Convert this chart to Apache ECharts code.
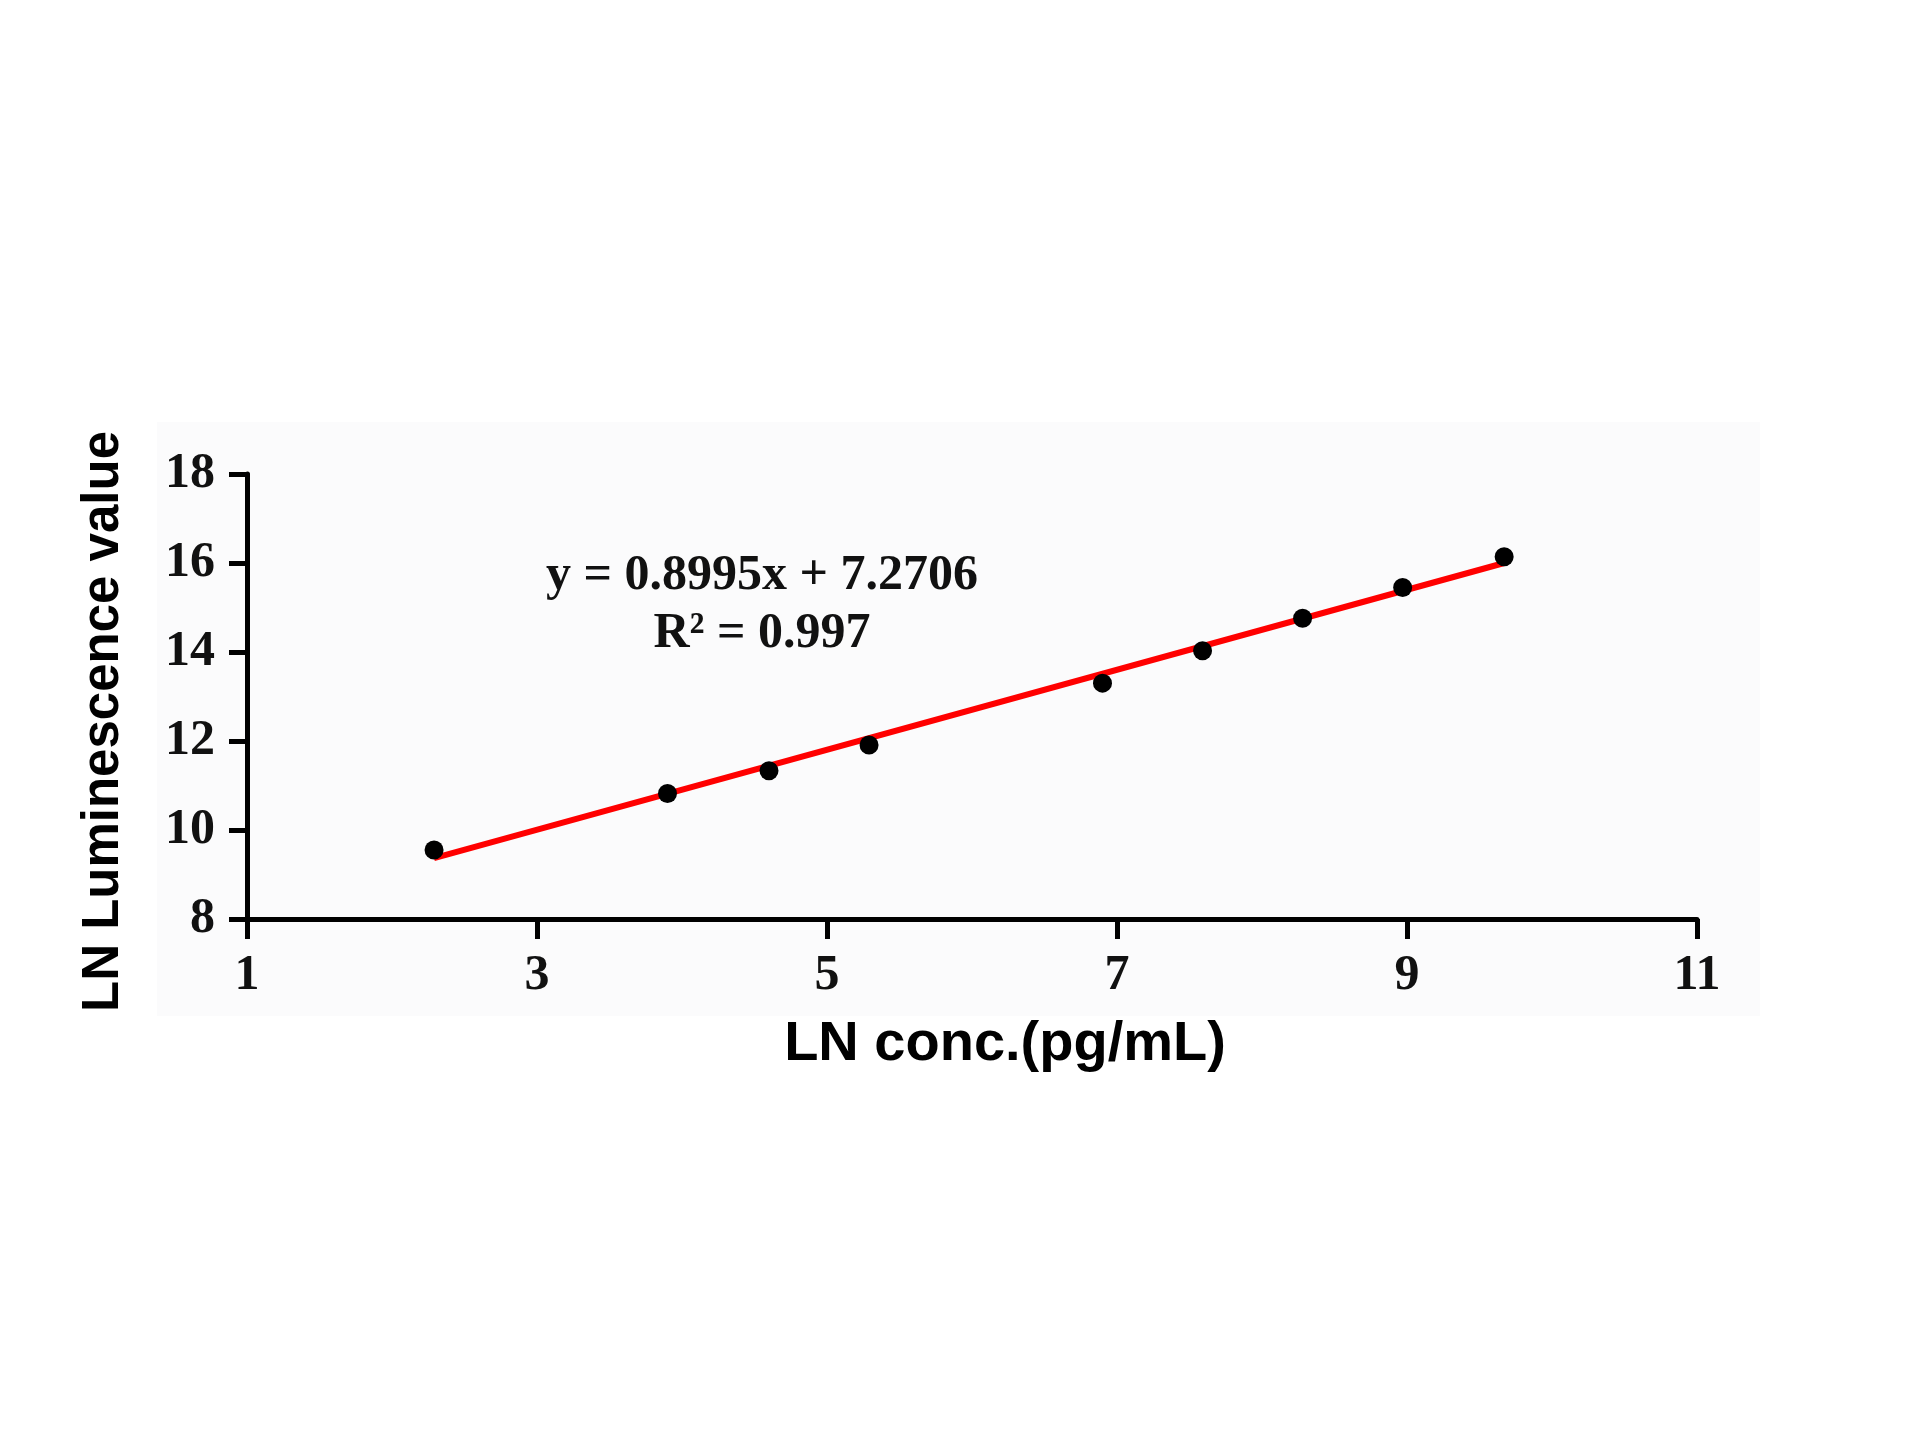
<!DOCTYPE html>
<html>
<head>
<meta charset="utf-8">
<script src="https://cdn.jsdelivr.net/npm/echarts@6/dist/echarts.min.js"></script>
<style>
html,body{margin:0;padding:0;background:#ffffff;}
#chart{width:1920px;height:1440px;}
</style>
</head>
<body>
<div id="chart"></div>
<script>
// Data
const lnConc = [2.29, 3.90, 4.60, 5.29, 6.90, 7.59, 8.28, 8.97, 9.67];
const lnLum  = [9.55, 10.82, 11.33, 11.91, 13.30, 14.03, 14.76, 15.45, 16.14];
const fitX = [2.29, 9.67];
const fitY = [9.37, 16.00];
const xTicks = [1, 3, 5, 7, 9, 11];
const yTicks = [8, 10, 12, 14, 16, 18];
const equationText = 'y = 0.8995x + 7.2706';
const r2Text = 'R² = 0.997';
const xTitle = 'LN conc.(pg/mL)';
const yTitle = 'LN Luminescence value';

const points = lnConc.map((x, i) => [x, lnLum[i]]);
const fitLine = fitX.map((x, i) => [x, fitY[i]]);

const chart = echarts.init(document.getElementById('chart'), null, {renderer: 'canvas'});
const serif = '"Liberation Serif", "Times New Roman", serif';
const sans = '"Liberation Sans", Arial, sans-serif';

const option = {
  backgroundColor: '#ffffff',
  animation: false,
  graphic: [
    {
      type: 'rect', z: -10,
      shape: {x: 157, y: 422, width: 1603, height: 594},
      style: {fill: '#fbfbfc'}
    },
    {
      type: 'text', z: 10,
      style: {
        text: equationText + '\n' + r2Text,
        x: 762, y: 605,
        align: 'center', verticalAlign: 'middle',
        font: 'bold 50px ' + serif,
        lineHeight: 58,
        fill: '#111111'
      }
    }
  ],
  grid: {left: 247, right: 223, top: 474, bottom: 521, containLabel: false},
  xAxis: {
    type: 'value', min: 1, max: 11, interval: 2,
    name: xTitle, nameLocation: 'middle', nameGap: 98,
    nameTextStyle: {fontFamily: sans, fontWeight: 'bold', fontSize: 56, color: '#000', padding: [0, 0, 0, 66]},
    axisLine: {show: true, onZero: false, lineStyle: {color: '#000', width: 5}},
    axisTick: {show: true, inside: false, length: 20, lineStyle: {color: '#000', width: 5}},
    axisLabel: {
      margin: 32, fontFamily: serif, fontWeight: 'bold', fontSize: 50, color: '#111',
      formatter: v => xTicks.includes(v) ? String(v) : ''
    },
    splitLine: {show: false}
  },
  yAxis: {
    type: 'value', min: 8, max: 18, interval: 2,
    name: yTitle, nameLocation: 'middle', nameGap: 118, nameRotate: 90,
    nameTextStyle: {fontFamily: sans, fontWeight: 'bold', fontSize: 51, color: '#000', padding: [0, 50, 0, 0]},
    axisLine: {show: true, onZero: false, lineStyle: {color: '#000', width: 5}},
    axisTick: {show: true, inside: false, length: 18, lineStyle: {color: '#000', width: 5}},
    axisLabel: {
      margin: 32, fontFamily: serif, fontWeight: 'bold', fontSize: 50, color: '#111',
      formatter: v => yTicks.includes(v) ? String(v) : ''
    },
    splitLine: {show: false}
  },
  series: [
    {
      name: 'Fit', type: 'line', data: fitLine,
      symbol: 'none', z: 2,
      lineStyle: {color: '#ff0000', width: 6}
    },
    {
      name: 'Samples', type: 'scatter', data: points,
      symbol: 'circle', symbolSize: 19, z: 3,
      itemStyle: {color: '#000000', opacity: 1}
    }
  ]
};
chart.setOption(option);
</script>
</body>
</html>
